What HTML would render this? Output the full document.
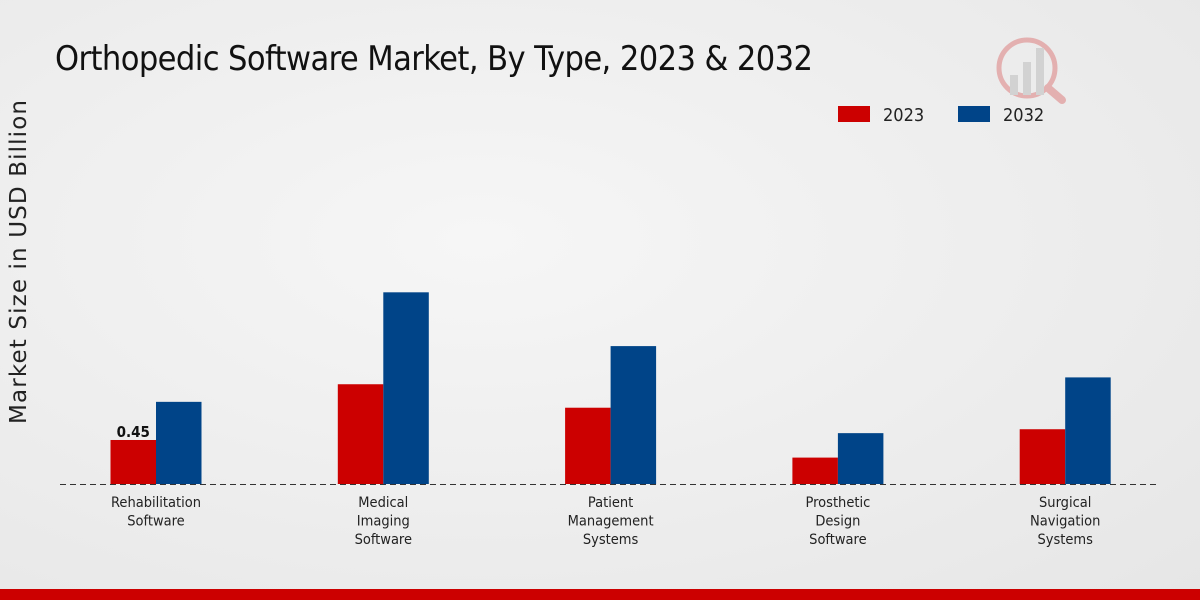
<!DOCTYPE html>
<html><head><meta charset="utf-8"><style>
body{margin:0;width:1200px;height:600px;overflow:hidden;font-family:"DejaVu Sans Condensed","Liberation Sans",sans-serif;}
#bg{position:absolute;left:0;top:0;width:1200px;height:600px;background:radial-gradient(ellipse at 40% 40%,#f6f6f6 0%,#e6e6e6 100%);}
</style></head><body>
<div id="bg"></div>
<svg id="chart" width="1200" height="600" style="position:absolute;left:0;top:0">
<text x="55" y="70" font-size="34" fill="#111" textLength="758">Orthopedic Software Market, By Type, 2023 &amp; 2032</text>
<text transform="translate(26,262) rotate(-90)" text-anchor="middle" font-size="23" fill="#222" font-family="DejaVu Sans, sans-serif" textLength="324">Market Size in USD Billion</text>
<rect x="838" y="106" width="32" height="16" fill="#cc0000"/>
<text x="883" y="121" font-size="18" fill="#222">2023</text>
<rect x="958" y="106" width="32" height="16" fill="#004488"/>
<text x="1003" y="121" font-size="18" fill="#222">2032</text>
<g opacity="0.25">
<circle cx="1027" cy="68" r="28" fill="none" stroke="#cc0000" stroke-width="5"/>
<line x1="1048" y1="88" x2="1062" y2="100" stroke="#cc0000" stroke-width="8" stroke-linecap="round"/>
<rect x="1010" y="75" width="8" height="20" fill="#888"/><rect x="1023" y="62" width="8" height="33" fill="#888"/><rect x="1036" y="48" width="8" height="47" fill="#888"/>
</g>
<line x1="60" y1="484.5" x2="1160" y2="484.5" stroke="#333" stroke-dasharray="6,4"/>
<g id="bars"></g><g id="labels"></g>
<rect x="0" y="589" width="1200" height="11" fill="#cc0000"/>
</svg>
<script>
const categories=[["Rehabilitation","Software"],["Medical","Imaging","Software"],["Patient","Management","Systems"],["Prosthetic","Design","Software"],["Surgical","Navigation","Systems"]];
const values2023=[0.45,1.02,0.78,0.27,0.56];
const values2032=[0.84,1.96,1.41,0.52,1.09];
const ns="http://www.w3.org/2000/svg";
const base=484,scale=97.8,x0=156,step=227.3,bw=45.5;
const y=v=>base-v*scale;
const xc=i=>x0+i*step;
const bars=document.getElementById('bars'),labels=document.getElementById('labels');
function rect(x,v,fill,name){const r=document.createElementNS(ns,'rect');
r.setAttribute('x',x);r.setAttribute('y',y(v));r.setAttribute('width',bw);r.setAttribute('height',base-y(v));r.setAttribute('fill',fill);


bars.appendChild(r);}
categories.forEach((c,i)=>{
rect(xc(i)-bw,values2023[i],'#cc0000','bar-2023-'+i);
rect(xc(i),values2032[i],'#004488','bar-2032-'+i);
c.forEach((l,j)=>{const t=document.createElementNS(ns,'text');
t.setAttribute('x',xc(i));t.setAttribute('y',507+j*18.5);t.setAttribute('text-anchor','middle');t.setAttribute('font-size','14.5');t.setAttribute('fill','#222');
t.textContent=l;


labels.appendChild(t);});
});
const v=document.createElementNS(ns,'text');
v.setAttribute('x',xc(0)-bw/2);v.setAttribute('y',y(values2023[0])-3);v.setAttribute('text-anchor','middle');v.setAttribute('font-size','15');v.setAttribute('font-weight','bold');v.setAttribute('fill','#111');
v.textContent=values2023[0].toFixed(2);


labels.appendChild(v);
</script>
</body></html>
